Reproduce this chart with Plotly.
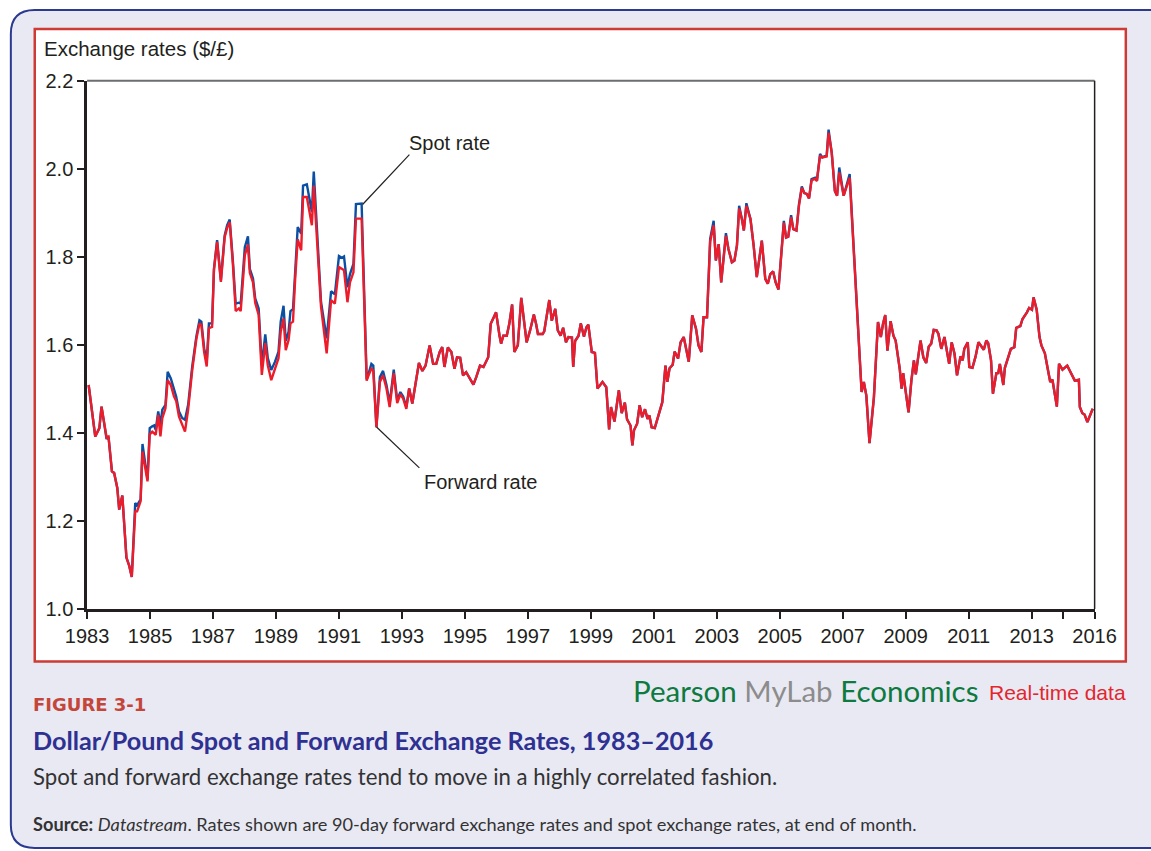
import plotly.graph_objects as go

# ---------------- data ----------------
years = [
    1983.05, 1983.26, 1983.39, 1983.46, 1983.62, 1983.68, 1983.79, 1983.86, 1983.96, 1984.02,
    1984.12, 1984.25, 1984.34, 1984.42, 1984.53, 1984.59, 1984.70, 1984.76, 1984.92, 1984.99,
    1985.07, 1985.13, 1985.18, 1985.26, 1985.33, 1985.39, 1985.49, 1985.56, 1985.66, 1985.76,
    1985.83, 1985.92, 1986.02, 1986.11, 1986.21, 1986.34, 1986.47, 1986.57, 1986.63, 1986.72,
    1986.80, 1986.87, 1986.97, 1987.03, 1987.13, 1987.25, 1987.37, 1987.45, 1987.53, 1987.63,
    1987.72, 1987.82, 1987.88, 1988.01, 1988.11, 1988.17, 1988.27, 1988.34, 1988.45, 1988.55,
    1988.66, 1988.74, 1988.85, 1988.97, 1989.08, 1989.15, 1989.24, 1989.31, 1989.40, 1989.46,
    1989.54, 1989.61, 1989.69, 1989.80, 1989.86, 1989.98, 1990.14, 1990.20, 1990.30, 1990.43,
    1990.61, 1990.75, 1990.87, 1991.00, 1991.09,
    1991.16, 1991.27, 1991.35, 1991.46, 1991.54, 1991.72, 1991.88, 1991.94, 1992.03, 1992.09,
    1992.19, 1992.30, 1992.40, 1992.51, 1992.61, 1992.74, 1992.85, 1992.95, 1993.04, 1993.14,
    1993.23, 1993.33, 1993.46, 1993.54, 1993.65, 1993.75, 1993.88, 1993.99, 1994.09, 1994.20,
    1994.28, 1994.35, 1994.46, 1994.57, 1994.67, 1994.75, 1994.85, 1994.94, 1995.04, 1995.15,
    1995.27, 1995.36, 1995.48, 1995.59, 1995.74, 1995.82, 1995.99, 1996.10, 1996.15, 1996.22,
    1996.33, 1996.41, 1996.50, 1996.57, 1996.68, 1996.79, 1996.96, 1997.07, 1997.19, 1997.26,
    1997.32, 1997.47, 1997.52, 1997.68, 1997.76, 1997.87, 1997.95, 1998.04, 1998.12, 1998.21,
    1998.29, 1998.40, 1998.44, 1998.50, 1998.61, 1998.68, 1998.78, 1998.86, 1998.92, 1999.03,
    1999.13, 1999.21, 1999.37, 1999.49, 1999.58, 1999.64, 1999.75, 1999.89, 1999.98, 2000.08,
    2000.15, 2000.26, 2000.32, 2000.37, 2000.47, 2000.55, 2000.63, 2000.72, 2000.80, 2000.86,
    2000.93, 2001.03, 2001.14, 2001.27, 2001.37, 2001.43, 2001.50, 2001.60, 2001.66, 2001.77,
    2001.85, 2001.95, 2002.11, 2002.22, 2002.34, 2002.42, 2002.51, 2002.58, 2002.69, 2002.79,
    2002.90, 2002.97, 2003.06, 2003.14, 2003.29, 2003.37, 2003.48, 2003.56, 2003.64, 2003.71,
    2003.80, 2003.86, 2003.94, 2004.07, 2004.17, 2004.27, 2004.43, 2004.54, 2004.62, 2004.70,
    2004.79, 2004.87, 2004.96, 2005.13, 2005.20, 2005.27, 2005.36, 2005.43, 2005.53, 2005.61,
    2005.70, 2005.78, 2005.86, 2005.93, 2006.01, 2006.12, 2006.18, 2006.28, 2006.35, 2006.49,
    2006.55, 2006.65, 2006.75, 2006.82, 2006.89, 2007.03, 2007.22, 2007.35, 2007.44,
    2007.47, 2007.60, 2007.67, 2007.75, 2007.85, 2007.99, 2008.12, 2008.21, 2008.28, 2008.35,
    2008.42, 2008.52, 2008.61, 2008.68, 2008.81, 2008.87, 2008.92, 2009.02, 2009.09, 2009.18,
    2009.26, 2009.32, 2009.47, 2009.56, 2009.65, 2009.73, 2009.81, 2009.89, 2009.98, 2010.04,
    2010.13, 2010.23, 2010.30, 2010.38, 2010.46, 2010.55, 2010.63, 2010.74, 2010.81, 2010.86,
    2010.97, 2011.02, 2011.12, 2011.22, 2011.31, 2011.39, 2011.48, 2011.56, 2011.62, 2011.71,
    2011.77, 2011.88, 2011.94, 2011.99, 2012.10, 2012.15, 2012.24, 2012.34, 2012.45, 2012.51,
    2012.64, 2012.71, 2012.85, 2012.92, 2013.01, 2013.06, 2013.16, 2013.25, 2013.31, 2013.42,
    2013.50, 2013.59, 2013.66, 2013.80, 2013.87, 2013.98, 2014.13, 2014.22, 2014.32, 2014.37,
    2014.50, 2014.53, 2014.61, 2014.68, 2014.77, 2014.85, 2014.94,
]

spot = [
    1.509, 1.392, 1.411, 1.460, 1.386, 1.392, 1.313, 1.309, 1.275, 1.226,
    1.258, 1.117, 1.098, 1.073, 1.241, 1.236, 1.249, 1.375, 1.294, 1.411,
    1.415, 1.417, 1.407, 1.449, 1.419, 1.453, 1.464, 1.539, 1.524, 1.496,
    1.483, 1.449, 1.434, 1.430, 1.464, 1.551, 1.619, 1.656, 1.653, 1.592,
    1.562, 1.649, 1.649, 1.773, 1.838, 1.747, 1.849, 1.872, 1.885, 1.792,
    1.694, 1.696, 1.694, 1.822, 1.847, 1.773, 1.751, 1.706, 1.683, 1.554,
    1.624, 1.570, 1.543, 1.562, 1.585, 1.653, 1.689, 1.609, 1.630, 1.677,
    1.681, 1.766, 1.868, 1.853, 1.962, 1.965, 1.902, 1.994, 1.864, 1.698,
    1.615, 1.722, 1.715, 1.802, 1.798,
    1.801, 1.731, 1.761, 1.784, 1.920, 1.921, 1.522, 1.535, 1.557, 1.553,
    1.413, 1.527, 1.541, 1.509, 1.467, 1.544, 1.474, 1.493, 1.483, 1.459,
    1.501, 1.467, 1.519, 1.559, 1.541, 1.553, 1.599, 1.557, 1.557, 1.584,
    1.595, 1.550, 1.594, 1.584, 1.546, 1.572, 1.571, 1.531, 1.538, 1.525,
    1.510, 1.527, 1.553, 1.550, 1.572, 1.648, 1.674, 1.621, 1.603, 1.621,
    1.621, 1.648, 1.692, 1.584, 1.599, 1.707, 1.606, 1.633, 1.669, 1.648,
    1.625, 1.625, 1.631, 1.702, 1.655, 1.682, 1.633, 1.621, 1.639, 1.606,
    1.618, 1.617, 1.550, 1.609, 1.621, 1.649, 1.619, 1.640, 1.646, 1.584,
    1.582, 1.501, 1.516, 1.504, 1.408, 1.459, 1.426, 1.497, 1.445, 1.469,
    1.431, 1.417, 1.372, 1.406, 1.421, 1.463, 1.436, 1.454, 1.432, 1.440,
    1.413, 1.411, 1.440, 1.470, 1.553, 1.516, 1.547, 1.555, 1.585, 1.569,
    1.606, 1.618, 1.562, 1.667, 1.637, 1.599, 1.584, 1.663, 1.663, 1.841,
    1.882, 1.792, 1.829, 1.742, 1.854, 1.818, 1.788, 1.792, 1.826, 1.916,
    1.885, 1.860, 1.922, 1.886, 1.826, 1.754, 1.837, 1.750, 1.739, 1.761,
    1.767, 1.742, 1.726, 1.882, 1.844, 1.846, 1.895, 1.863, 1.860, 1.920,
    1.960, 1.945, 1.943, 1.933, 1.977, 1.980, 1.973, 2.034, 2.026, 2.031,
    2.089, 2.037, 1.950, 1.939, 2.003, 1.939, 1.988, 1.814, 1.716,
    1.671, 1.493, 1.516, 1.485, 1.377, 1.481, 1.652, 1.618, 1.648, 1.668,
    1.587, 1.654, 1.621, 1.610, 1.546, 1.501, 1.536, 1.489, 1.447, 1.519,
    1.565, 1.533, 1.610, 1.572, 1.559, 1.596, 1.603, 1.634, 1.633, 1.625,
    1.591, 1.618, 1.587, 1.557, 1.606, 1.580, 1.531, 1.574, 1.565, 1.591,
    1.606, 1.550, 1.548, 1.574, 1.606, 1.599, 1.589, 1.610, 1.604, 1.565,
    1.489, 1.536, 1.536, 1.557, 1.509, 1.548, 1.571, 1.591, 1.595, 1.639,
    1.643, 1.659, 1.674, 1.684, 1.680, 1.708, 1.680, 1.618, 1.599, 1.581,
    1.550, 1.516, 1.521, 1.460, 1.557, 1.544, 1.553, 1.541, 1.527, 1.519,
    1.521, 1.459, 1.445, 1.442, 1.425, 1.440, 1.455,
]

forward = [
    1.509, 1.392, 1.411, 1.460, 1.390, 1.392, 1.313, 1.309, 1.275, 1.226,
    1.258, 1.117, 1.098, 1.073, 1.222, 1.222, 1.245, 1.358, 1.290, 1.397,
    1.403, 1.400, 1.396, 1.441, 1.392, 1.434, 1.456, 1.520, 1.509, 1.483,
    1.473, 1.437, 1.417, 1.403, 1.453, 1.543, 1.613, 1.649, 1.645, 1.583,
    1.551, 1.638, 1.641, 1.770, 1.834, 1.743, 1.845, 1.866, 1.879, 1.785,
    1.677, 1.683, 1.677, 1.804, 1.828, 1.764, 1.742, 1.696, 1.668, 1.532,
    1.604, 1.554, 1.520, 1.547, 1.570, 1.630, 1.660, 1.588, 1.611, 1.649,
    1.653, 1.751, 1.840, 1.815, 1.936, 1.936, 1.872, 1.962, 1.841, 1.687,
    1.581, 1.702, 1.694, 1.777, 1.773,
    1.770, 1.697, 1.742, 1.765, 1.887, 1.887, 1.519, 1.531, 1.546, 1.542,
    1.413, 1.516, 1.531, 1.501, 1.459, 1.536, 1.468, 1.488, 1.478, 1.455,
    1.501, 1.467, 1.519, 1.559, 1.541, 1.553, 1.599, 1.557, 1.557, 1.584,
    1.595, 1.550, 1.594, 1.584, 1.546, 1.572, 1.571, 1.531, 1.538, 1.525,
    1.510, 1.527, 1.553, 1.550, 1.572, 1.648, 1.674, 1.621, 1.603, 1.621,
    1.621, 1.648, 1.692, 1.584, 1.599, 1.707, 1.606, 1.633, 1.669, 1.648,
    1.625, 1.625, 1.631, 1.702, 1.655, 1.682, 1.633, 1.621, 1.639, 1.606,
    1.618, 1.617, 1.550, 1.609, 1.621, 1.649, 1.619, 1.640, 1.646, 1.584,
    1.582, 1.501, 1.516, 1.504, 1.408, 1.459, 1.426, 1.497, 1.445, 1.469,
    1.431, 1.417, 1.372, 1.406, 1.421, 1.463, 1.436, 1.454, 1.432, 1.440,
    1.413, 1.411, 1.440, 1.470, 1.553, 1.516, 1.547, 1.555, 1.585, 1.569,
    1.606, 1.618, 1.562, 1.667, 1.637, 1.599, 1.584, 1.663, 1.663, 1.835,
    1.872, 1.792, 1.829, 1.742, 1.848, 1.818, 1.788, 1.792, 1.826, 1.910,
    1.885, 1.860, 1.916, 1.886, 1.826, 1.754, 1.837, 1.750, 1.739, 1.761,
    1.767, 1.742, 1.726, 1.878, 1.844, 1.846, 1.890, 1.863, 1.860, 1.916,
    1.957, 1.945, 1.943, 1.933, 1.974, 1.977, 1.973, 2.030, 2.026, 2.028,
    2.082, 2.037, 1.950, 1.939, 1.992, 1.939, 1.980, 1.814, 1.716,
    1.671, 1.493, 1.516, 1.485, 1.377, 1.481, 1.652, 1.618, 1.648, 1.668,
    1.587, 1.654, 1.621, 1.610, 1.546, 1.501, 1.536, 1.489, 1.447, 1.519,
    1.565, 1.533, 1.610, 1.572, 1.559, 1.596, 1.603, 1.634, 1.633, 1.625,
    1.591, 1.618, 1.587, 1.557, 1.606, 1.580, 1.531, 1.574, 1.565, 1.591,
    1.606, 1.550, 1.548, 1.574, 1.606, 1.599, 1.589, 1.610, 1.604, 1.565,
    1.489, 1.536, 1.536, 1.557, 1.509, 1.548, 1.571, 1.591, 1.595, 1.639,
    1.643, 1.659, 1.674, 1.684, 1.680, 1.708, 1.680, 1.618, 1.599, 1.581,
    1.550, 1.516, 1.521, 1.460, 1.557, 1.544, 1.553, 1.541, 1.527, 1.519,
    1.521, 1.459, 1.445, 1.442, 1.425, 1.440, 1.455,
]

assert len(years) == len(spot) == len(forward), (len(years), len(spot), len(forward))

x_tick_vals = [1983, 1985, 1987, 1989, 1991, 1993, 1995, 1997, 1999, 2001,
               2003, 2005, 2007, 2009, 2011, 2013, 2014, 2015]
x_tick_text = ["1983", "1985", "1987", "1989", "1991", "1993", "1995", "1997", "1999", "2001",
               "2003", "2005", "2007", "2009", "2011", "2013", "", "2016"]
y_tick_vals = [1.0, 1.2, 1.4, 1.6, 1.8, 2.0, 2.2]
y_tick_text = ["1.0", "1.2", "1.4", "1.6", "1.8", "2.0", "2.2"]

# ---------------- layout helpers ----------------
# The page shows the figure in a box of about 1111 x 831 px at offset (19, 10);
# positions below are given in screen pixels and converted to paper fractions.
W, H = 1151, 851
OX, OY, FW, FH = 19.2, 10.0, 1111.0, 831.0


def px(x):
    return (x - OX) / FW


def py(y):
    return 1 - (y - OY) / FH


PLOT_L, PLOT_R, PLOT_T, PLOT_B = 84.5, 1095.7, 80, 609.5
AX = "#231f20"
SANS = "Liberation Sans, Arial, sans-serif"
CAP = "Lato, Open Sans, sans-serif"

fig = go.Figure()
fig.add_trace(go.Scatter(x=years, y=spot, mode="lines", name="Spot rate",
                         line=dict(color="#0b4fa3", width=2.4), hoverinfo="x+y"))
fig.add_trace(go.Scatter(x=years, y=forward, mode="lines", name="Forward rate",
                         line=dict(color="#ec1c2b", width=2.4), hoverinfo="x+y"))

fill_path = (f"M {px(1175)},{py(9)} L {px(32)},{py(9)} Q {px(8)},{py(9)} {px(8)},{py(33)} "
             f"L {px(8)},{py(826)} Q {px(8)},{py(849)} {px(32)},{py(849)} L {px(1175)},{py(849)} Z")
border_path = (f"M {px(1175)},{py(9)} L {px(32)},{py(9)} Q {px(8)},{py(9)} {px(8)},{py(33)} "
               f"L {px(8)},{py(826)} Q {px(8)},{py(849)} {px(32)},{py(849)} L {px(1175)},{py(849)}")

shapes = [
    dict(type="path", xref="paper", yref="paper", path=fill_path,
         fillcolor="#e9e9f3", line=dict(width=0), layer="below"),
    dict(type="path", xref="paper", yref="paper", path=border_path,
         fillcolor="rgba(0,0,0,0)", line=dict(color="#2b3990", width=2), layer="below"),
    # inner white box with red border
    dict(type="rect", xref="paper", yref="paper", x0=px(32), x1=px(1127), y0=py(662), y1=py(28),
         fillcolor="white", line=dict(color="#cd3b34", width=2.5), layer="below"),
    # top (grey) and right (dark) frame lines of the plot area
    dict(type="line", xref="paper", yref="paper", x0=px(PLOT_L), x1=px(PLOT_R), y0=py(PLOT_T), y1=py(PLOT_T),
         line=dict(color="#6d6e71", width=2)),
    dict(type="line", xref="paper", yref="paper", x0=px(PLOT_R), x1=px(PLOT_R), y0=py(PLOT_T), y1=py(PLOT_B),
         line=dict(color=AX, width=1.5)),
    # pointer lines for the labels
    dict(type="line", xref="paper", yref="paper", x0=px(361), y0=py(204), x1=px(408), y1=py(154),
         line=dict(color=AX, width=1.2)),
    dict(type="line", xref="paper", yref="paper", x0=px(375), y0=py(427), x1=px(418), y1=py(468),
         line=dict(color=AX, width=1.2)),
]

annotations = [
    dict(text="Exchange rates ($/£)", x=px(39), y=py(48), xanchor="left", yanchor="middle",
         font=dict(family=SANS, size=20.5, color=AX)),
    dict(text="Spot rate", x=px(448), y=py(142), xanchor="center", yanchor="middle",
         font=dict(family=SANS, size=20, color=AX)),
    dict(text="Forward rate", x=px(479), y=py(482), xanchor="center", yanchor="middle",
         font=dict(family=SANS, size=20, color=AX)),
    dict(text="<b>FIGURE 3-1</b>", x=px(28), y=py(705), xanchor="left", yanchor="middle",
         font=dict(family="DejaVu Sans, sans-serif", size=18, color="#c4463a")),
    dict(text=("<span style='color:#0d7a3f'>Pearson</span> <span style='color:#8c8c8c'>MyLab</span> "
               "<span style='color:#0d7a3f'>Economics</span>"),
         x=px(981), y=py(691), xanchor="right", yanchor="middle",
         font=dict(family=CAP, size=29.5, color="#0d7a3f")),
    dict(text="Real-time data", x=px(1129), y=py(693), xanchor="right", yanchor="middle",
         font=dict(family=SANS, size=21, color="#e3262d")),
    dict(text="<b>Dollar/Pound Spot and Forward Exchange Rates, 1983–2016</b>", x=px(28), y=py(741),
         xanchor="left", yanchor="middle", font=dict(family=CAP, size=25.2, color="#2e3192")),
    dict(text="Spot and forward exchange rates tend to move in a highly correlated fashion.",
         x=px(28), y=py(777), xanchor="left", yanchor="middle",
         font=dict(family=CAP, size=22.2, color="#333333")),
    dict(text=("<b>Source:</b> <i>Datastream</i>. Rates shown are 90-day forward exchange rates "
               "and spot exchange rates, at end of month."),
         x=px(28), y=py(825), xanchor="left", yanchor="middle",
         font=dict(family=CAP, size=18.2, color="#333333")),
]
for a in annotations:
    a.update(xref="paper", yref="paper", showarrow=False)

fig.update_layout(
    width=W, height=H,
    margin=dict(l=0, r=0, t=0, b=0),
    paper_bgcolor="white",
    plot_bgcolor="rgba(0,0,0,0)",
    showlegend=False,
    shapes=shapes,
    annotations=annotations,
    xaxis=dict(domain=[px(PLOT_L), px(PLOT_R)], range=[1983, 2015],
               tickmode="array", tickvals=x_tick_vals, ticktext=x_tick_text,
               ticks="outside", ticklen=7, tickwidth=1.5, tickcolor=AX,
               showline=True, linecolor=AX, linewidth=2.5, mirror=False,
               showgrid=False, zeroline=False,
               tickfont=dict(family=SANS, size=20, color=AX)),
    yaxis=dict(domain=[py(PLOT_B), py(PLOT_T)], range=[1.0, 2.2],
               tickmode="array", tickvals=y_tick_vals, ticktext=y_tick_text,
               ticks="outside", ticklen=7, tickwidth=1.5, tickcolor=AX,
               showline=True, linecolor=AX, linewidth=2.5, mirror=False,
               showgrid=False, zeroline=False,
               tickfont=dict(family=SANS, size=20, color=AX)),
)

fig.write_html("out.html", config={"displayModeBar": False},
               post_script="document.body.style.margin='0';document.body.style.overflow='hidden';")
